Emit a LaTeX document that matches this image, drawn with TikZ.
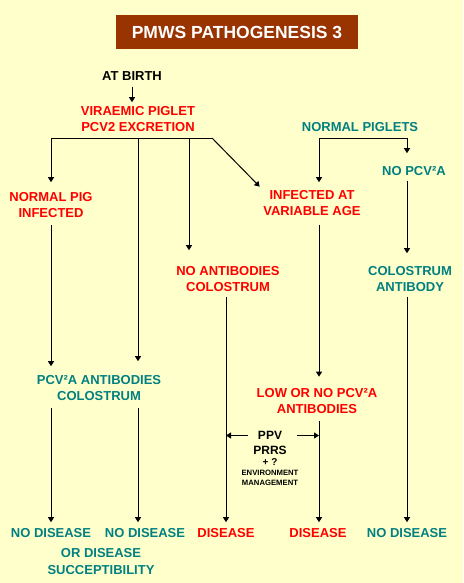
\documentclass[tikz,border=0pt]{standalone}
\usepackage{fontspec}
\setmainfont{Liberation Sans}
\usetikzlibrary{arrows.meta,calc}
\definecolor{bgc}{HTML}{FFFFCC}
\definecolor{brn}{HTML}{993300}
\definecolor{tl}{HTML}{008080}
\definecolor{rd}{HTML}{FF0000}
\begin{document}
\begin{tikzpicture}[x=1pt,y=-1pt,
  lbl/.style={font=\bfseries\fontsize{13}{16}\selectfont, align=center, inner sep=0pt},
  rtxt/.style={lbl,text=rd},
  ttxt/.style={lbl,text=tl},
  ktxt/.style={lbl,text=black},
  arr/.style={-{Triangle[length=5pt,width=6pt]}, line width=1pt},
  ln/.style={line width=1pt}]
\fill[bgc] (0,0) rectangle (463,583);
\useasboundingbox (0,0) rectangle (463,583);

% title
\node[fill=brn, minimum width=242, minimum height=34, inner sep=0pt, text=white,
      font=\bfseries\fontsize{17.5}{20}\selectfont] (title) at (237,32) {PMWS PATHOGENESIS 3};

% text nodes
\node[ktxt] (birth) at (132,76) {AT BIRTH};
\node[rtxt] (vir) at (138,119) {VIRAEMIC PIGLET\\PCV2 EXCRETION};
\node[rtxt] (npi) at (51,205) {NORMAL PIG\\INFECTED};
\node[rtxt] (noab) at (228,279) {NO ANTIBODIES\\COLOSTRUM};
\node[ttxt] (nplets) at (360,127) {NORMAL PIGLETS};
\node[ttxt] (nopcv) at (414,171) {NO PCV²A};
\node[rtxt] (inf) at (312,203) {INFECTED AT\\VARIABLE AGE};
\node[ttxt] (colab) at (410,279) {COLOSTRUM\\ANTIBODY};
\node[ttxt] (pcvab) at (99,388) {PCV²A ANTIBODIES\\COLOSTRUM};
\node[rtxt] (low) at (317,401.5) {LOW OR NO PCV²A\\ANTIBODIES};

\node[ktxt, font=\bfseries\fontsize{12}{14}\selectfont] (ppv) at (270,435.5) {PPV};
\node[ktxt, font=\bfseries\fontsize{12}{14}\selectfont] (prrs) at (270,450) {PRRS};
\node[ktxt, font=\bfseries\fontsize{10}{12}\selectfont] (plusq) at (270,462.5) {+ ?};
\node[ktxt, font=\bfseries\fontsize{7.7}{9}\selectfont] (env) at (270,473) {ENVIRONMENT};
\node[ktxt, font=\bfseries\fontsize{7.7}{9}\selectfont] (mgmt) at (270,483) {MANAGEMENT};

\node[ttxt] (d1) at (51,533) {NO DISEASE};
\node[ttxt] (d2) at (145,533) {NO DISEASE};
\node[rtxt] (d3) at (226,533) {DISEASE};
\node[rtxt] (d4) at (318,533) {DISEASE};
\node[ttxt] (d5) at (407,533) {NO DISEASE};
\node[ttxt, font=\bfseries\fontsize{13}{17}\selectfont] (susc) at (101,561.5) {OR DISEASE\\SUCCEPTIBILITY};

% branch coordinates
\coordinate (bL) at (51,138);
\coordinate (b2) at (138,138);
\coordinate (b3) at (189,138);
\coordinate (bR) at (212,138);
\coordinate (pL) at (319,138);
\coordinate (pR) at (407,138);

% connectors
\draw[arr, shorten <=6, shorten >=4] (birth.south) -- (birth.south |- vir.north);
\draw[ln] (bL) -- (bR);
\draw[arr, shorten >=10] (bL) -- (npi.north);
\draw[arr, shorten >=14] (b2) -- (b2 |- pcvab.north);
\draw[arr, shorten >=16] (b3) -- (b3 |- noab.north);
\draw[arr, shorten >=5] (bR) -- (inf.north west);

\draw[arr, shorten <=7, shorten >=9] (npi.south) -- (npi.south |- pcvab.north);

\draw[ln] (pL) -- (pR);
\draw[arr, shorten >=8] (pL) -- (pL |- inf.north);
\draw[arr, shorten >=13] (pR) -- (pR |- nopcv.north);

\draw[arr, shorten <=9, shorten >=12] (pL |- inf.south) -- (pL |- low.north);
\draw[arr, shorten <=5, shorten >=13] (pR |- nopcv.south) -- (pR |- colab.north);

\draw[arr, shorten <=7, shorten >=6] (bL |- pcvab.south) -- (bL |- d1.north);
\draw[arr, shorten <=7, shorten >=6] (b2 |- pcvab.south) -- (b2 |- d2.north);
\draw[arr, shorten <=5, shorten >=6] (d3.north |- noab.south) -- (d3.north);
\draw[arr, shorten <=7, shorten >=6] (pL |- low.south) -- (pL |- d4.north);
\draw[arr, shorten <=5, shorten >=6] (pR |- colab.south) -- (pR |- d5.north);

\draw[arr, shorten <=10] (ppv.west) -- (ppv.west -| d3.north);
\draw[arr, shorten <=15] (ppv.east) -- (ppv.east -| pL);
\end{tikzpicture}
\end{document}
